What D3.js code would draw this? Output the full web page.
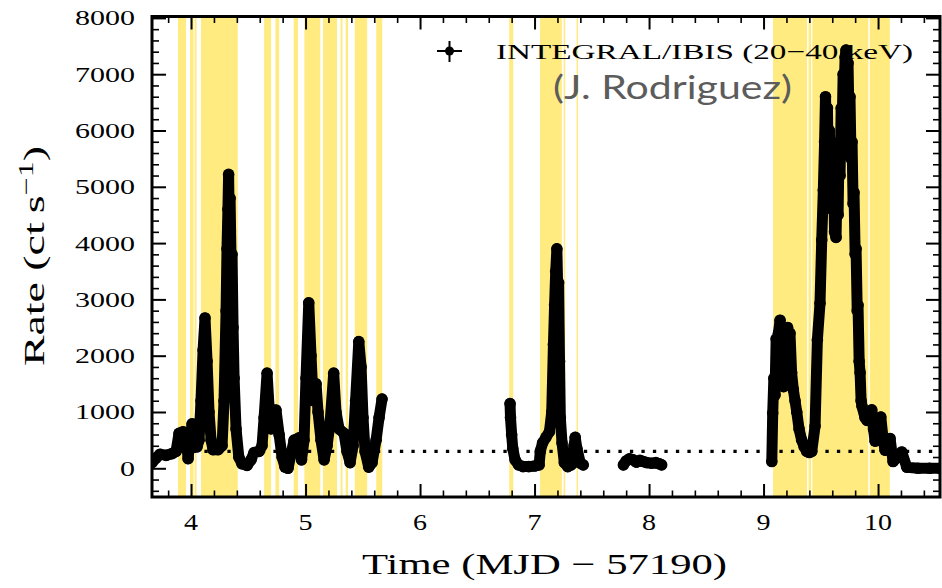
<!DOCTYPE html>
<html>
<head>
<meta charset="utf-8">
<script src="https://cdn.jsdelivr.net/npm/d3@7"></script>
<style>
  body { margin: 0; background: #fff; }
  svg { display: block; }
</style>
</head>
<body>
<svg id="chart" width="942" height="588"></svg>
<script>
// Good-time intervals (MJD - 57190), shaded in yellow
const bandStart = [3.886, 3.991, 4.031, 4.087, 4.638, 4.737, 4.896, 4.990, 5.153, 5.306, 5.351, 5.430, 5.617,
                   6.779, 7.048, 7.254, 7.367, 9.083, 9.393, 9.426, 9.928];
const bandEnd   = [3.956, 4.022, 4.048, 4.408, 4.699, 4.769, 4.934, 5.129, 5.275, 5.323, 5.371, 5.538, 5.670,
                   6.814, 7.238, 7.268, 7.380, 9.380, 9.415, 9.915, 10.103];

// INTEGRAL/IBIS 20-40 keV light curve, four continuous stretches
const timeA = [3.659, 3.694, 3.729, 3.782, 3.834, 3.869, 3.895, 3.930, 3.956, 3.974, 3.991, 4.009, 4.035, 4.052,
               4.070, 4.087, 4.105, 4.122, 4.140, 4.157, 4.175, 4.192, 4.236, 4.271, 4.288, 4.306, 4.314, 4.322,
               4.328, 4.334, 4.341, 4.350, 4.358, 4.367, 4.376, 4.393, 4.417, 4.445, 4.489, 4.524, 4.550, 4.594,
               4.620, 4.638, 4.664, 4.681, 4.699, 4.716, 4.742, 4.769, 4.795, 4.821, 4.847, 4.873, 4.900, 4.943,
               4.965, 4.987, 5.004, 5.028, 5.048, 5.066, 5.092, 5.109, 5.135, 5.162, 5.188, 5.214, 5.246, 5.266,
               5.293, 5.336, 5.362, 5.389, 5.415, 5.437, 5.465, 5.485, 5.502, 5.520, 5.552, 5.581, 5.616, 5.642,
               5.668];
const rateA = [100, 180, 250, 230, 260, 300, 620, 650, 600, 170, 500, 790, 600, 380,
               500, 1200, 2100, 2670, 1900, 1000, 500, 330, 330, 400, 1200, 2800, 3900, 4600,
               5220, 4300, 4800, 3600, 3800, 2500, 1600, 700, 200, 80, 50, 150, 280, 300,
               400, 900, 1690, 1100, 700, 800, 1035, 600, 200, 20, 0, 250, 500, 540,
               150, 500, 1600, 2940, 2000, 1200, 1500, 1000, 500, 150, 400, 800, 1690, 1000,
               700, 620, 300, 100, 400, 1200, 2250, 1800, 900, 300, 20, 100, 500, 900,
               1230];

const timeB = [6.786, 6.790, 6.800, 6.810, 6.830, 6.860, 6.900, 6.950, 7.000, 7.040, 7.050, 7.070, 7.100, 7.130,
               7.150, 7.165, 7.175, 7.185, 7.195, 7.203, 7.210, 7.218, 7.225, 7.240, 7.260, 7.290, 7.320, 7.345,
               7.355, 7.370, 7.400, 7.425];
const rateB = [1150, 900, 600, 350, 150, 60, 30, 30, 40, 60, 300, 450, 550, 650,
               1000, 2200, 2900, 3500, 3900, 3100, 3300, 1900, 900, 450, 100, 30, 60, 400,
               550, 350, 90, 60];

const timeC = [7.776, 7.800, 7.830, 7.860, 7.890, 7.920, 7.950, 7.980, 8.020, 8.060, 8.090, 8.110];
const rateC = [60, 130, 170, 150, 110, 140, 120, 100, 90, 100, 80, 60];

const timeD = [9.072, 9.080, 9.090, 9.100, 9.110, 9.120, 9.130, 9.144, 9.155, 9.165, 9.175, 9.185, 9.197, 9.210,
               9.220, 9.231, 9.245, 9.260, 9.275, 9.290, 9.310, 9.333, 9.355, 9.377, 9.400, 9.421, 9.450, 9.470,
               9.493, 9.508, 9.522, 9.533, 9.541, 9.550, 9.558, 9.566, 9.575, 9.584, 9.592, 9.600, 9.610, 9.620,
               9.633, 9.642, 9.651, 9.660, 9.668, 9.678, 9.686, 9.695, 9.703, 9.712, 9.720, 9.729, 9.738, 9.746,
               9.755, 9.764, 9.773, 9.782, 9.790, 9.800, 9.808, 9.818, 9.825, 9.835, 9.843, 9.852, 9.860, 9.886,
               9.904, 9.925, 9.945, 9.960, 9.974, 10.000, 10.024, 10.045, 10.061, 10.085, 10.105, 10.131, 10.170,
               10.207, 10.251, 10.350, 10.450, 10.541];
const rateD = [120, 980, 1600, 1300, 2300, 1700, 2400, 2630, 1600, 2000, 1450, 1900, 2300, 2500,
               1900, 2400, 1700, 1400, 1200, 1000, 700, 500, 380, 300, 280, 300, 750, 2280,
               2930, 4055, 4940, 5800, 6600, 5800, 6400, 5200, 6000, 5000, 5700, 4600, 5400, 4200,
               4100, 5000, 4500, 5800, 5200, 6400, 6000, 7000, 6600, 7300, 7430, 6900, 7200, 6200,
               6600, 5500, 5800, 4700, 4900, 3800, 3900, 2800, 2900, 1900, 1700, 1200, 1100, 900,
               850, 1000, 1040, 700, 480, 600, 910, 500, 320, 400, 530, 120, 200,
               290, 20, 0, 0, 0];

// Axis ticks
const xMajor = [4, 5, 6, 7, 8, 9, 10];
const xMinor = d3.range(19, 53).map(i => i / 5).filter(v => Math.abs(v - Math.round(v)) > 1e-6);
const yMajor = [0, 1000, 2000, 3000, 4000, 5000, 6000, 7000, 8000];
const yMinor = d3.range(-400, 8001, 200).filter(v => v % 1000 !== 0);
const refRate = 300;

const frame = { left: 152, right: 940, top: 16.5, bottom: 497 };
const x = d3.scaleLinear().domain([3.659, 10.541]).range([frame.left, frame.right]);
const y = d3.scaleLinear().domain([-510, 8025]).range([frame.bottom, frame.top]);

const svg = d3.select("#chart");
const serif = "'Liberation Serif', 'Times New Roman', serif";

svg.append("defs").append("clipPath").attr("id", "plotclip")
  .append("rect")
  .attr("x", frame.left).attr("y", frame.top)
  .attr("width", frame.right - frame.left).attr("height", frame.bottom - frame.top);

const plot = svg.append("g").attr("clip-path", "url(#plotclip)");

// shaded intervals
plot.append("g").selectAll("rect")
  .data(bandStart.map((s, i) => [s, bandEnd[i]]))
  .join("rect")
  .attr("x", d => x(d[0]))
  .attr("width", d => x(d[1]) - x(d[0]))
  .attr("y", frame.top)
  .attr("height", frame.bottom - frame.top)
  .attr("fill", "#ffeb80");

// reference level
plot.append("line")
  .attr("x1", frame.left).attr("x2", frame.right)
  .attr("y1", y(refRate)).attr("y2", y(refRate))
  .attr("stroke", "#000")
  .attr("stroke-width", 3.3)
  .attr("stroke-dasharray", "3.3 8.2")
  .attr("stroke-dashoffset", 5.1);

// light curve
const segments = [[timeA, rateA], [timeB, rateB], [timeC, rateC], [timeD, rateD]]
  .map(([t, r]) => t.map((v, i) => ({ t: v, r: r[i] })));

const line = d3.line().x(d => x(d.t)).y(d => y(d.r));
plot.append("g").selectAll("path")
  .data(segments)
  .join("path")
  .attr("d", line)
  .attr("fill", "none")
  .attr("stroke", "#000")
  .attr("stroke-width", 11)
  .attr("stroke-linejoin", "round")
  .attr("stroke-linecap", "round");

plot.append("g").selectAll("circle")
  .data(segments.flat())
  .join("circle")
  .attr("cx", d => x(d.t))
  .attr("cy", d => y(d.r))
  .attr("r", 5.8)
  .attr("fill", "#000");

// ticks pointing inward on all four sides
function tickAxis(axisFn, scale, values, size, width, transform) {
  const g = svg.append("g")
    .attr("transform", transform)
    .call(axisFn(scale).tickValues(values).tickSize(-size).tickFormat(""));
  g.select(".domain").remove();
  g.selectAll(".tick line").attr("stroke", "#000").attr("stroke-width", width);
}
tickAxis(d3.axisBottom, x, xMajor, 13, 2, `translate(0,${frame.bottom})`);
tickAxis(d3.axisBottom, x, xMinor, 6.5, 1.6, `translate(0,${frame.bottom})`);
tickAxis(d3.axisTop, x, xMajor, 13, 2, `translate(0,${frame.top})`);
tickAxis(d3.axisTop, x, xMinor, 6.5, 1.6, `translate(0,${frame.top})`);
tickAxis(d3.axisLeft, y, yMajor, 14, 2, `translate(${frame.left},0)`);
tickAxis(d3.axisLeft, y, yMinor, 7, 1.6, `translate(${frame.left},0)`);
tickAxis(d3.axisRight, y, yMajor, 14, 2, `translate(${frame.right},0)`);
tickAxis(d3.axisRight, y, yMinor, 7, 1.6, `translate(${frame.right},0)`);

// frame
svg.append("rect")
  .attr("x", frame.left).attr("y", frame.top)
  .attr("width", frame.right - frame.left).attr("height", frame.bottom - frame.top)
  .attr("fill", "none").attr("stroke", "#000").attr("stroke-width", 3);

// text with a fixed rendered width
function label(parent, str, x0, yBase, size, len, opts = {}) {
  return parent.append("text")
    .attr("x", x0).attr("y", yBase)
    .attr("font-family", opts.family || serif)
    .attr("font-size", size)
    .attr("fill", opts.fill || "#000")
    .attr("textLength", len)
    .attr("lengthAdjust", "spacingAndGlyphs")
    .text(str);
}

// tick labels
xMajor.forEach(v => {
  const s = String(v);
  const len = 14 * s.length;
  label(svg, s, x(v) - len / 2, 530, 23, len);
});
yMajor.forEach(v => {
  const s = String(v);
  const len = 15 * s.length;
  label(svg, s, 135 - len, y(v) + 7.5, 22, len);
});

// axis titles
label(svg, "Time (MJD \u2212 57190)", 362, 574, 30, 365);
const yTitle = svg.append("g").attr("transform", "translate(44,256) rotate(-90)");
const yt = yTitle.append("text")
  .attr("x", -110).attr("y", 0)
  .attr("font-family", serif).attr("font-size", 30)
  .attr("textLength", 220).attr("lengthAdjust", "spacingAndGlyphs");
yt.append("tspan").text("Rate (ct\u2009s");
yt.append("tspan").attr("dy", -11).attr("font-size", 21).text("\u22121");
yt.append("tspan").attr("dy", 11).text(")");

// legend
const lg = svg.append("g");
lg.append("line").attr("x1", 437).attr("x2", 462).attr("y1", 51).attr("y2", 51)
  .attr("stroke", "#000").attr("stroke-width", 2);
lg.append("line").attr("x1", 449.5).attr("x2", 449.5).attr("y1", 41).attr("y2", 62)
  .attr("stroke", "#000").attr("stroke-width", 2);
lg.append("circle").attr("cx", 449.5).attr("cy", 51).attr("r", 4.5).attr("fill", "#000");
label(lg, "INTEGRAL/IBIS (20\u221240 keV)", 496, 59, 22, 417);

// credit
label(svg, "(J. Rodriguez)", 553, 99, 32, 239, { family: "Lato, 'Open Sans', sans-serif", fill: "#5c5c5c" });
</script>
</body>
</html>
